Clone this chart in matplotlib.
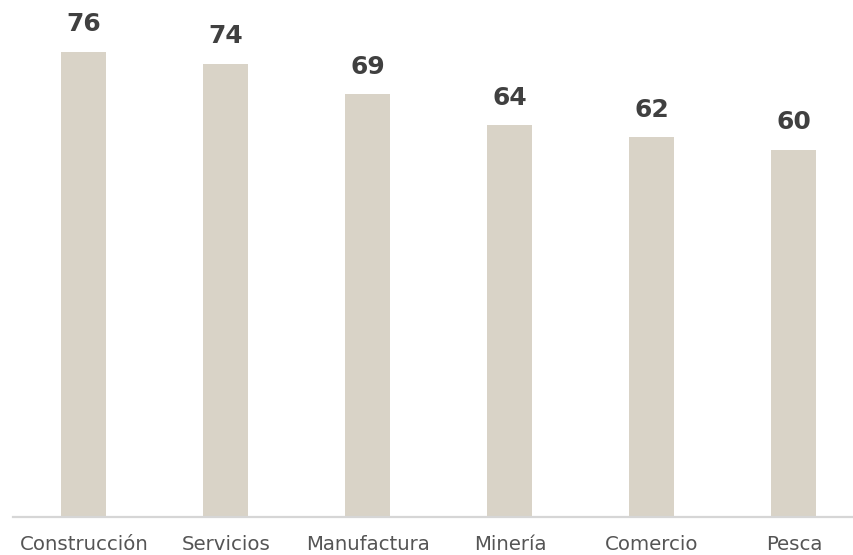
import matplotlib
matplotlib.use("Agg")
import matplotlib.pyplot as plt

# Chart data
categories = ["Construcción", "Servicios", "Manufactura", "Minería", "Comercio", "Pesca"]
values = [76, 74, 69, 64, 62, 60]

W, H = 854, 555
fig = plt.figure(figsize=(W / 100, H / 100), dpi=100)

# axes placement in pixels
left_px, base_px = 13, 517
ax = fig.add_axes([left_px / W, (H - base_px) / H, (W - left_px) / W, base_px / H])

slot = 142.0
px_per_unit = 6.125
ax.bar(range(len(categories)), values, width=45 / slot, color="#d9d3c7", zorder=2)
ax.set_xlim(-0.5, -0.5 + (W - left_px) / slot)
ax.set_ylim(0, base_px / px_per_unit)

# value labels
for i, v in enumerate(values):
    ax.annotate(f"{v}", (i, v), xytext=(0, 11), textcoords="offset points",
                ha="center", va="bottom", fontsize=18, fontweight="bold",
                color="#404040", family="DejaVu Sans")

ax.set_xticks(range(len(categories)))
ax.set_xticklabels(categories, fontsize=14.2, color="#555555", family="DejaVu Sans")
ax.tick_params(axis="x", length=0, pad=13)
ax.set_yticks([])

for side in ["top", "right", "left"]:
    ax.spines[side].set_visible(False)
ax.spines["bottom"].set_color("#d6d6d6")
ax.spines["bottom"].set_linewidth(1.6)
ax.patch.set_alpha(0)

fig.savefig("out.png", dpi=100)
